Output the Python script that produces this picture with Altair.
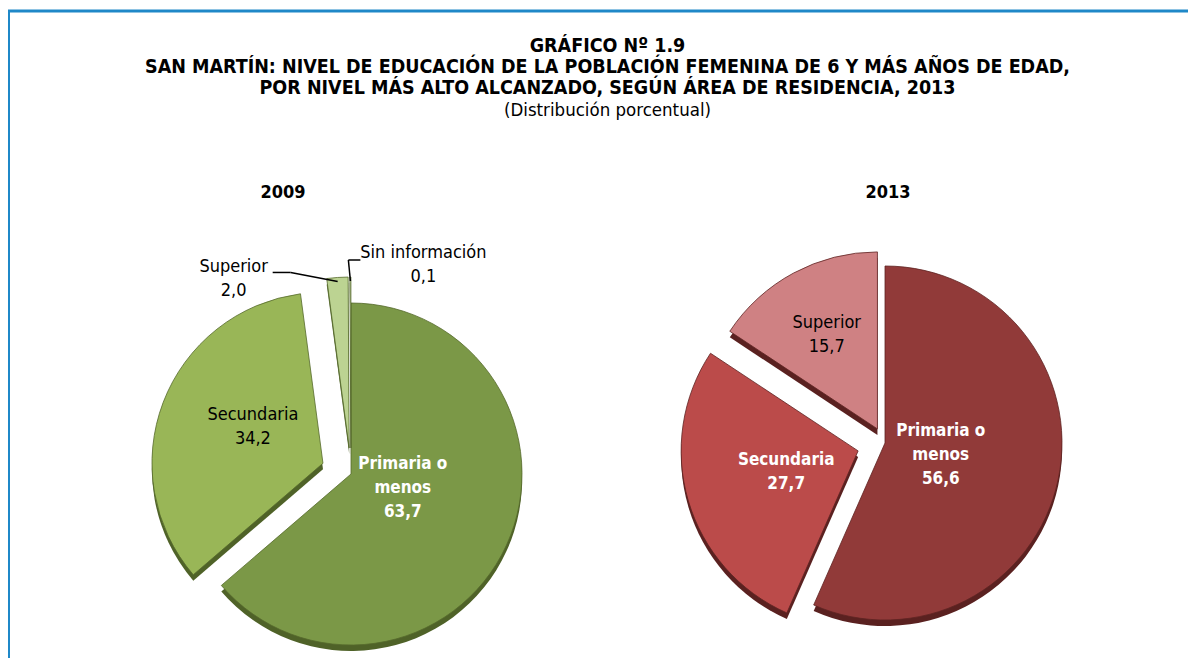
import altair as alt
import pandas as pd

# ---------------- data ----------------
years = ["2009", "2013"]
categories_2009 = ["Primaria o menos", "Secundaria", "Superior", "Sin información"]
values_2009 = [63.7, 34.2, 2.0, 0.1]
categories_2013 = ["Primaria o menos", "Secundaria", "Superior"]
values_2013 = [56.6, 27.7, 15.7]
display_names = ["Primaria o\nmenos", "Secundaria", "Superior", "Sin información"]

title_lines = [
    "GRÁFICO Nº 1.9",
    "SAN MARTÍN: NIVEL DE EDUCACIÓN DE LA POBLACIÓN FEMENINA DE 6 Y MÁS AÑOS DE EDAD,",
    "POR NIVEL MÁS ALTO ALCANZADO, SEGÚN ÁREA DE RESIDENCIA, 2013",
]
subtitle_text = "(Distribución porcentual)"

rows = []
for yr, cats, vals in [(years[0], categories_2009, values_2009), (years[1], categories_2013, values_2013)]:
    for i, (c, v) in enumerate(zip(cats, vals)):
        rows.append({"year": yr, "cat": c, "name": display_names[categories_2009.index(c)],
                     "value": v, "ord": i})
df = pd.DataFrame(rows)

FONT = "DejaVu Sans Condensed, Liberation Sans Narrow, sans-serif"
W, H = 1180, 650
LH = 24


def pie(year, cx, cy, R, explode_expr, lr_expr, colors, stroke_color, shadow_color,
        white_expr, outside_expr, label_dy):
    cats = categories_2009 if year == years[0] else categories_2013
    xs = alt.Scale(domain=[-100, 100], range=[cx - 100, cx + 100], nice=False, zero=False)
    ys = alt.Scale(domain=[-100, 100], range=[cy - 100, cy + 100], nice=False, zero=False)
    ts = alt.Scale(domain=[0, 100], range=[0, 6.283185307179586])

    base = (
        alt.Chart(df)
        .transform_filter(f"datum.year == '{year}'")
        .transform_window(cum="sum(value)", sort=[alt.SortField("ord")], frame=[None, 0])
        .transform_calculate(t0="datum.cum - datum.value")
        .transform_calculate(mid="datum.cum - datum.value / 2")
        .transform_calculate(ang="datum.mid / 100 * 2 * PI")
        .transform_calculate(ex=explode_expr)
        .transform_calculate(ox="datum.ex * sin(datum.ang)")
        .transform_calculate(oy="-datum.ex * cos(datum.ang)")
        .transform_calculate(oys="datum.oy + 6")
        .transform_calculate(lr=lr_expr)
        .transform_calculate(
            lab="datum.name + '\\n' + replace(format(datum.value, '.1f'), '.', ',')"
        )
        .transform_calculate(nl="length(split(datum.lab, '\\n'))")
        .transform_calculate(lx="datum.ox + datum.lr * sin(datum.ang)")
        .transform_calculate(ly=f"datum.oy - datum.lr * cos(datum.ang) - (datum.nl - 1) * {LH / 2}")
    )
    X = lambda f: alt.X(f"{f}:Q", scale=xs, axis=None)
    Y = lambda f: alt.Y(f"{f}:Q", scale=ys, axis=None)

    shadow = base.mark_arc(outerRadius=R, color=shadow_color).encode(
        x=X("ox"), y=Y("oys"),
        theta=alt.Theta("t0:Q", scale=ts), theta2="cum:Q",
    )
    arcs = base.mark_arc(outerRadius=R, stroke=stroke_color, strokeWidth=0.8).encode(
        x=X("ox"), y=Y("oy"),
        theta=alt.Theta("t0:Q", scale=ts), theta2="cum:Q",
        color=alt.Color("cat:N", scale=alt.Scale(domain=cats, range=colors), legend=None),
    )
    white = base.transform_filter(white_expr).mark_text(
        font=FONT, fontSize=17, fontWeight="bold", color="white", lineBreak="\n",
        lineHeight=LH, align="center", baseline="middle", dy=label_dy,
    ).encode(x=X("lx"), y=Y("ly"), text="lab:N")
    black = base.transform_filter(f"!({white_expr}) && !({outside_expr})").mark_text(
        font=FONT, fontSize=18, color="black", lineBreak="\n",
        lineHeight=LH, align="center", baseline="middle", dy=label_dy,
    ).encode(x=X("lx"), y=Y("ly"), text="lab:N")
    layers = [shadow, arcs, white, black]

    # leader-line labels for the tiny slices
    lead = (
        base.transform_filter(outside_expr)
        .transform_calculate(tx=f"datum.ox + {R - 4} * sin(datum.ang)")
        .transform_calculate(ty=f"datum.oy - {R - 4} * cos(datum.ang)")
        .transform_calculate(bx="datum.tx + (datum.cat == 'Superior' ? -47 : -2)")
        .transform_calculate(by="datum.ty + (datum.cat == 'Superior' ? -9 : -21)")
        .transform_calculate(exx="datum.bx + (datum.cat == 'Superior' ? -18 : 12)")
        .transform_calculate(olx="datum.exx + (datum.cat == 'Superior' ? -39 : 63)")
        .transform_calculate(oly=f"datum.by + (datum.cat == 'Superior' ? 7 : 5) - {LH / 2}")
    )
    seg1 = lead.mark_rule(color="black", strokeWidth=1.5).encode(
        x=X("tx"), y=Y("ty"), x2="bx:Q", y2="by:Q")
    seg2 = lead.mark_rule(color="black", strokeWidth=1.5).encode(
        x=X("bx"), y=Y("by"), x2="exx:Q", y2="by:Q")
    otext = lead.mark_text(
        font=FONT, fontSize=18, color="black", lineBreak="\n",
        lineHeight=LH, align="center", baseline="middle",
    ).encode(x=X("olx"), y=Y("oly"), text="lab:N")
    layers += [seg1, seg2, otext]
    return alt.layer(*layers)


pie09 = pie(
    years[0], 343, 466, 171,
    "datum.cat == 'Primaria o menos' ? 0 : (datum.cat == 'Secundaria' ? 30 : 26)",
    "datum.cat == 'Primaria o menos' ? 57 : 75",
    ["#7b9847", "#99b657", "#bcd392", "#d6e4bb"], "#55692c", "#4f6228",
    "datum.cat == 'Primaria o menos'",
    "datum.cat == 'Superior' || datum.cat == 'Sin información'",
    -10,
)
pie13 = pie(
    years[1], 877, 435, 177,
    "datum.cat == 'Primaria o menos' ? 0 : (datum.cat == 'Secundaria' ? 28 : 16)",
    "datum.cat == 'Primaria o menos' ? 57 : (datum.cat == 'Secundaria' ? 75 : 107)",
    ["#913a39", "#bb4b4a", "#cf8183"], "#5e2322", "#5a2120",
    "datum.cat != 'Superior'",
    "false",
    0,
)

one = alt.Data(values=[{"k": 0}])
frame = alt.Chart(one).mark_rect(filled=False, stroke="#1f88c8", strokeWidth=3).encode(
    x=alt.value(0.5), x2=alt.value(1400), y=alt.value(3), y2=alt.value(900))

tdf = pd.DataFrame({"t": title_lines, "i": list(range(len(title_lines)))})
titles = alt.Chart(tdf).mark_text(
    font=FONT, fontSize=19.5, fontWeight="bold", color="black", align="center", baseline="alphabetic",
).encode(
    text="t:N",
    x=alt.value(599.5),
    y=alt.Y("i:Q", scale=alt.Scale(domain=[0, 2], range=[44, 86], nice=False, zero=False), axis=None),
)
sub = alt.Chart(pd.DataFrame({"t": [subtitle_text]})).mark_text(
    font=FONT, fontSize=18.5, color="black", align="center", baseline="alphabetic",
).encode(text="t:N", x=alt.value(599.5), y=alt.value(108))

ydf = pd.DataFrame({"y": years})
yr09 = alt.Chart(ydf).transform_filter(f"datum.y == '{years[0]}'").mark_text(
    font=FONT, fontSize=18, fontWeight="bold", color="black", align="center", baseline="alphabetic",
).encode(text="y:N", x=alt.value(275), y=alt.value(190))
yr13 = alt.Chart(ydf).transform_filter(f"datum.y == '{years[1]}'").mark_text(
    font=FONT, fontSize=18, fontWeight="bold", color="black", align="center", baseline="alphabetic",
).encode(text="y:N", x=alt.value(880), y=alt.value(190))

chart = (
    alt.layer(frame, titles, sub, yr09, yr13, pie09, pie13)
    .resolve_scale(x="independent", y="independent", theta="independent", color="independent")
    .properties(width=W, height=H, padding=0, autosize="none", background="white")
    .configure_view(strokeWidth=0)
)

chart.save("out.html", embed_options={"renderer": "svg", "actions": False})
